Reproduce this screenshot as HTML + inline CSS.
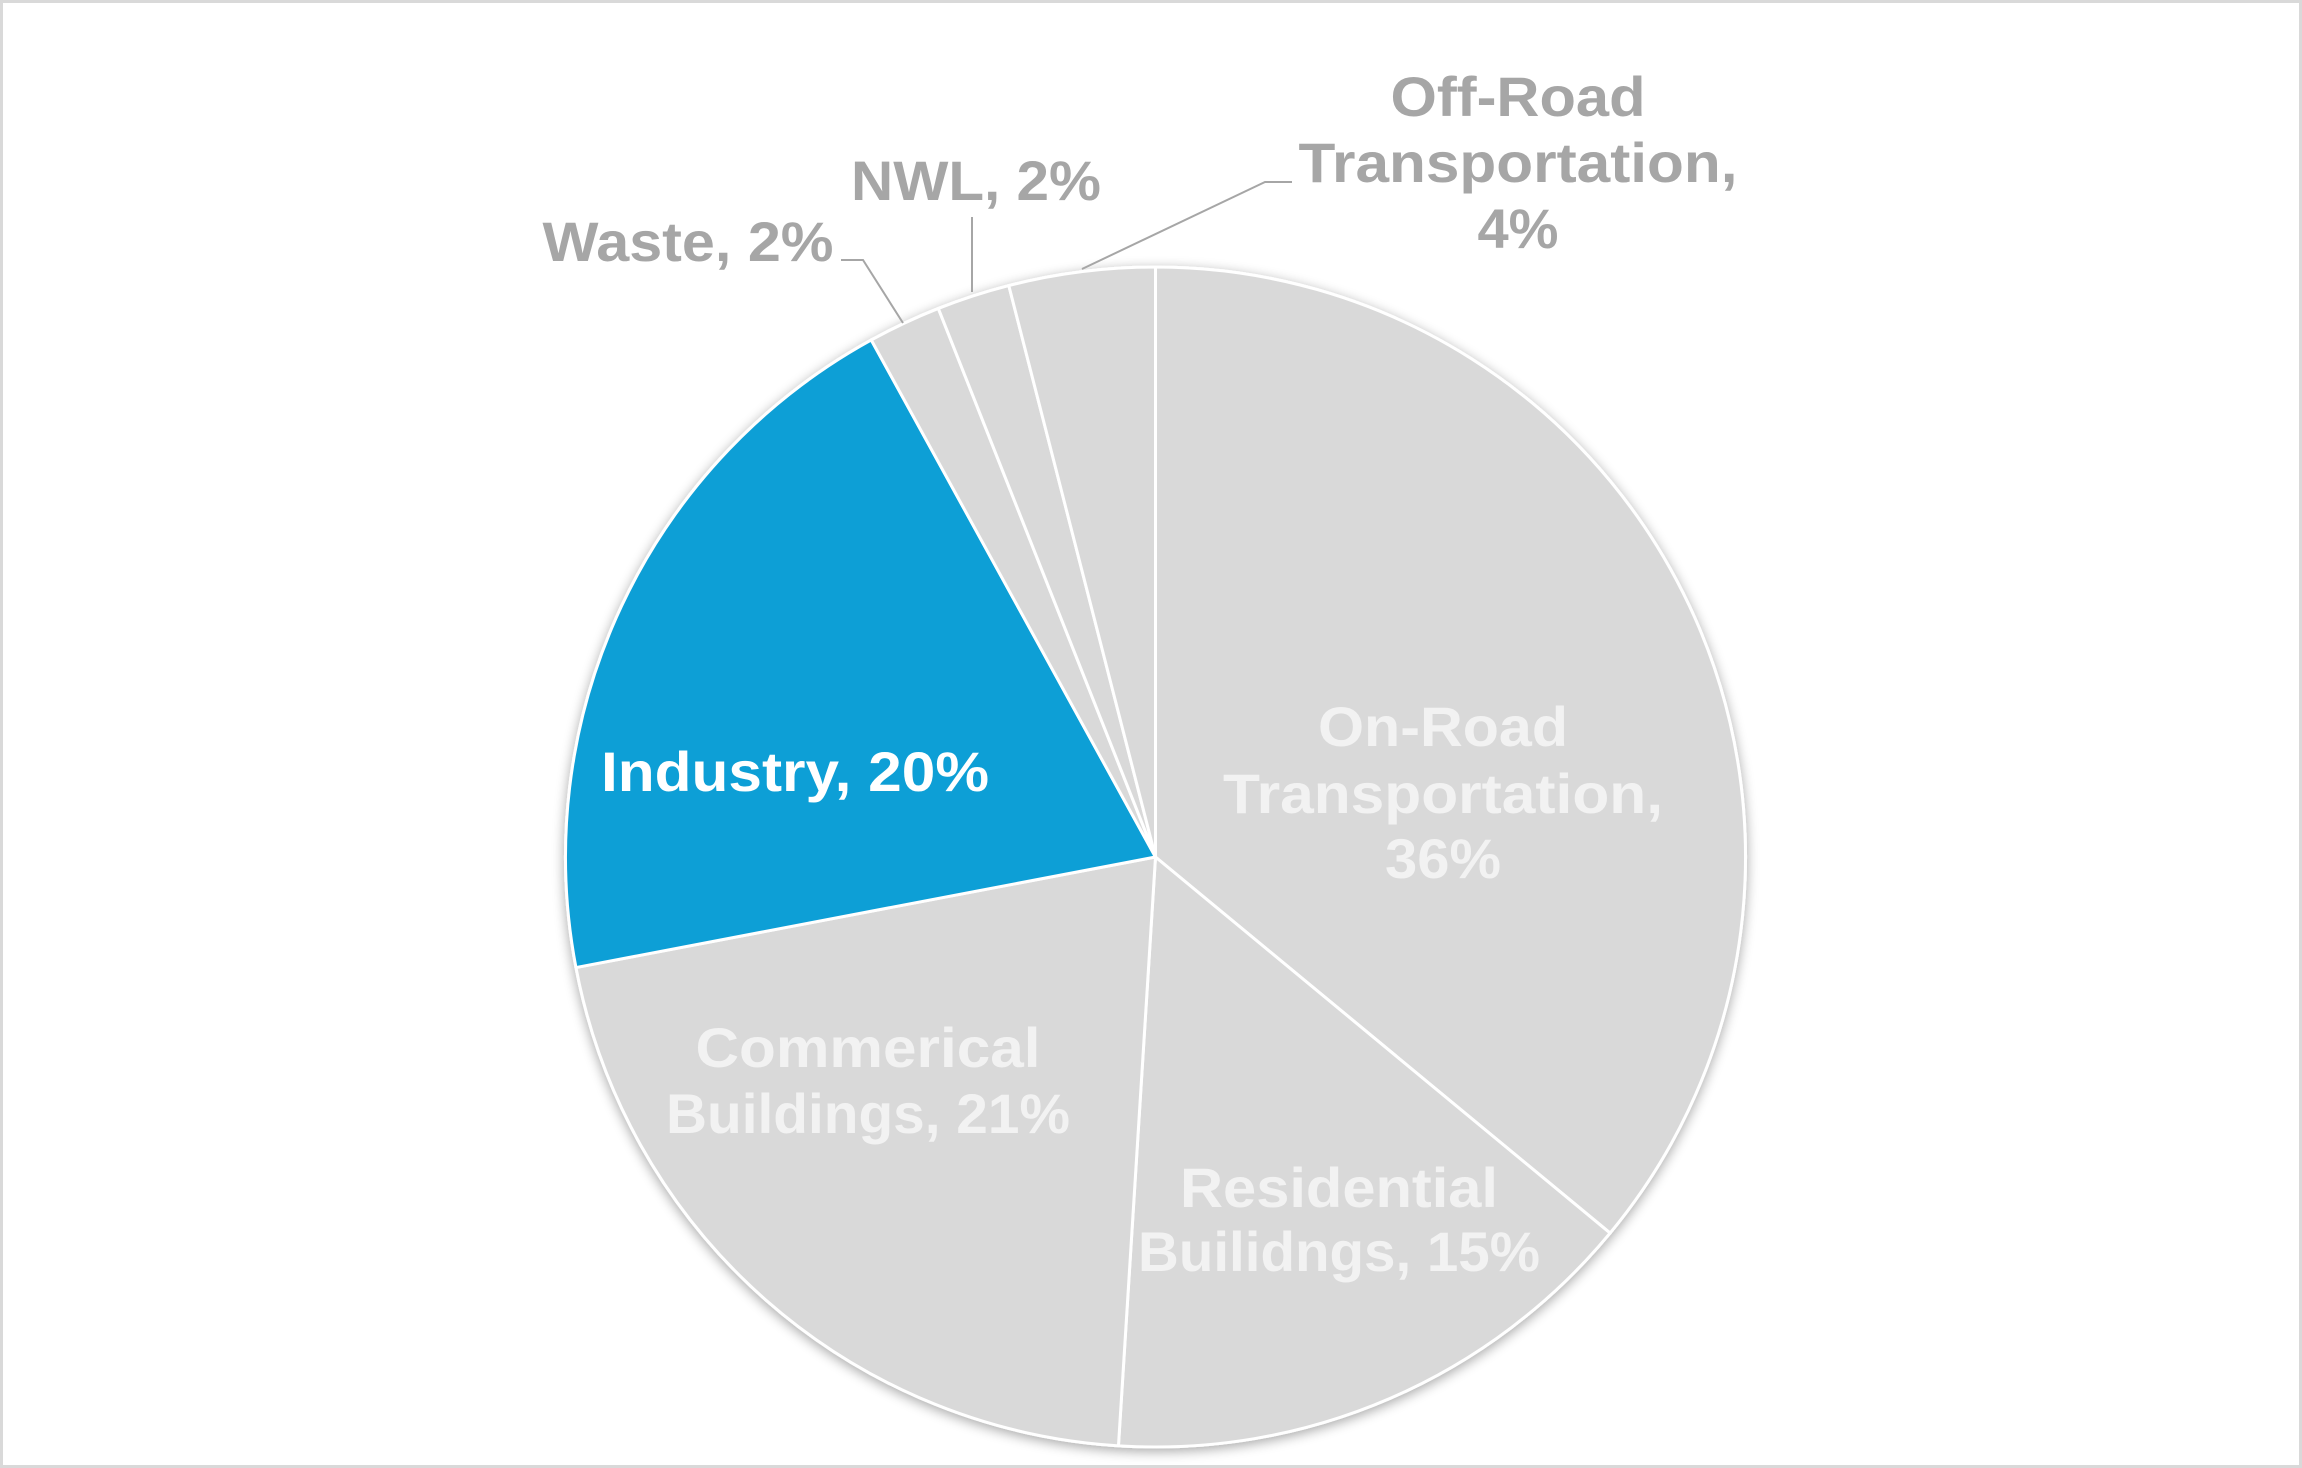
<!DOCTYPE html>
<html><head><style>html,body{margin:0;padding:0;background:#fff}svg{display:block}</style></head>
<body>
<svg width="2302" height="1468" viewBox="0 0 2302 1468" xmlns="http://www.w3.org/2000/svg" font-family="Liberation Sans, sans-serif" font-weight="bold">
<defs><filter id="sh" x="-10%" y="-10%" width="120%" height="120%"><feGaussianBlur in="SourceAlpha" stdDeviation="6"/><feOffset dx="0" dy="3"/><feComponentTransfer><feFuncA type="linear" slope="0.35"/></feComponentTransfer><feMerge><feMergeNode/><feMergeNode in="SourceGraphic"/></feMerge></filter></defs>
<rect x="1.5" y="1.5" width="2299" height="1465" fill="#fff" stroke="#d9d9d9" stroke-width="3"/>
<g id="pie" filter="url(#sh)" stroke="#fff" stroke-width="3" stroke-linejoin="round"></g>
<g fill="#a6a6a6" stroke="none"></g>
<g stroke="#a6a6a6" stroke-width="2" fill="none">
<polyline points="1082,269 1265,182 1292,182"/>
<polyline points="972,292 972,217"/>
<polyline points="841,260 863,260 903,323"/>
</g>
<g font-size="56" text-anchor="middle" fill="#f2f2f2">
<text x="1443" y="746" textLength="250" lengthAdjust="spacingAndGlyphs">On-Road</text>
<text x="1443" y="813" textLength="440" lengthAdjust="spacingAndGlyphs">Transportation,</text>
<text x="1443" y="878" textLength="116" lengthAdjust="spacingAndGlyphs">36%</text>
<text x="1339" y="1207" textLength="318" lengthAdjust="spacingAndGlyphs">Residential</text>
<text x="1339" y="1271" textLength="402" lengthAdjust="spacingAndGlyphs">Builidngs, 15%</text>
<text x="868" y="1067" textLength="345" lengthAdjust="spacingAndGlyphs">Commerical</text>
<text x="868" y="1133" textLength="404" lengthAdjust="spacingAndGlyphs">Buildings, 21%</text>
<text x="795" y="791" fill="#fff" textLength="388" lengthAdjust="spacingAndGlyphs">Industry, 20%</text>
</g>
<g font-size="56" text-anchor="middle" fill="#a6a6a6">
<text x="1518" y="116" textLength="255" lengthAdjust="spacingAndGlyphs">Off-Road</text>
<text x="1518" y="182" textLength="439" lengthAdjust="spacingAndGlyphs">Transportation,</text>
<text x="1518" y="248" textLength="81" lengthAdjust="spacingAndGlyphs">4%</text>
<text x="976" y="200" textLength="250" lengthAdjust="spacingAndGlyphs">NWL, 2%</text>
<text x="688" y="261" textLength="291" lengthAdjust="spacingAndGlyphs">Waste, 2%</text>
</g>
<script>
(function(){
var cx=1155.5,cy=857,r=590;
var d=[[36,'#d9d9d9'],[15,'#d9d9d9'],[21,'#d9d9d9'],[20,'#119fd6'],[2,'#d9d9d9'],[2,'#d9d9d9'],[4,'#d9d9d9']];
var g=document.getElementById('pie'),a=0,ns='http://www.w3.org/2000/svg';
function pt(t){var q=t/100*2*Math.PI;return [cx+r*Math.sin(q),cy-r*Math.cos(q)];}
d.forEach(function(s){var p0=pt(a),p1=pt(a+s[0]);var la=s[0]>50?1:0;
var p=document.createElementNS(ns,'path');
p.setAttribute('d','M'+cx+','+cy+' L'+p0[0]+','+p0[1]+' A'+r+','+r+' 0 '+la+' 1 '+p1[0]+','+p1[1]+' Z');
p.setAttribute('fill',s[1]);g.appendChild(p);a+=s[0];});
})();
</script>
</svg>
</body></html>
